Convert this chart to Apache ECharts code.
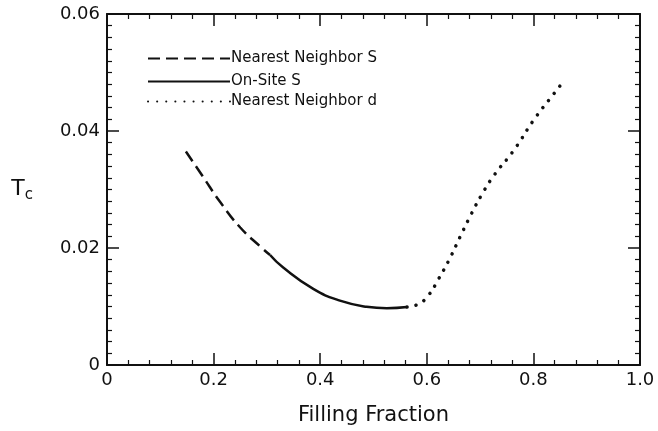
<!DOCTYPE html>
<html>
<head>
<meta charset="utf-8">
<script src="https://cdn.jsdelivr.net/npm/echarts@6/dist/echarts.min.js"></script>
<style>
  html, body { margin: 0; padding: 0; background: #fff; }
  #chart { width: 658px; height: 431px; }
</style>
</head>
<body>
<div id="chart"></div>
<script>
// 数据：近似值
const xTickLabels = ['0', '0.2', '0.4', '0.6', '0.8', '1.0'];
const yTickLabels = ['0', '0.02', '0.04', '0.06'];
const seriesNames = ['Nearest Neighbor S', 'On-Site S', 'Nearest Neighbor d'];

const nnS = [[0.148, 0.0365], [0.18, 0.0322], [0.212, 0.0279], [0.25, 0.0235], [0.287, 0.0203], [0.306, 0.0188]];
const onSiteS = [[0.306, 0.0188], [0.33, 0.0167], [0.387, 0.013], [0.437, 0.011], [0.487, 0.00995], [0.525, 0.0097], [0.563, 0.0099]];
const nnD = [[0.563, 0.0099], [0.584, 0.0104], [0.603, 0.0119], [0.622, 0.0147], [0.642, 0.0180], [0.664, 0.0222],
  [0.684, 0.0259], [0.703, 0.0291], [0.726, 0.0324], [0.764, 0.0368], [0.8, 0.0418], [0.837, 0.0462], [0.856, 0.0484]];

const FONT = 'DejaVu Sans';
const black = '#111';

function axisBase(extra) {
    return Object.assign({
        axisLine: { show: true, onZero: false, lineStyle: { color: black, width: 2 } },
        axisTick: { show: true, inside: true, length: 12, lineStyle: { color: black, width: 1.5 } },
        minorTick: { show: true, length: 5, lineStyle: { color: black, width: 1.2 } },
        splitLine: { show: false },
        minorSplitLine: { show: false }
    }, extra);
}

const chart = echarts.init(document.getElementById('chart'));
chart.setOption({
    animation: false,
    backgroundColor: '#fff',
    grid: { left: 107, right: 18, top: 14, bottom: 65 },
    xAxis: [
        axisBase({
            type: 'value', min: 0, max: 1, interval: 0.2, position: 'bottom',
            minorTick: { show: true, splitNumber: 5, length: 5, lineStyle: { color: black, width: 1.2 } },
            axisLabel: {
                margin: 6, fontFamily: FONT, fontSize: 18, color: black,
                formatter: (v, i) => xTickLabels[i]
            },
            name: 'Filling Fraction', nameLocation: 'middle', nameGap: 40,
            nameTextStyle: { fontFamily: FONT, fontSize: 21, color: black }
        }),
        axisBase({
            type: 'value', min: 0, max: 1, interval: 0.2, position: 'top',
            minorTick: { show: true, splitNumber: 5, length: 5, lineStyle: { color: black, width: 1.2 } },
            axisLabel: { show: false }
        })
    ],
    yAxis: [
        axisBase({
            type: 'value', min: 0, max: 0.06, interval: 0.02, position: 'left',
            minorTick: { show: true, splitNumber: 10, length: 5, lineStyle: { color: black, width: 1.2 } },
            axisLabel: {
                margin: 7, fontFamily: FONT, fontSize: 18, color: black,
                formatter: (v, i) => yTickLabels[i]
            },
            name: 'T{s|c}', nameLocation: 'middle', nameRotate: 0, nameGap: 74,
            nameTextStyle: {
                fontFamily: FONT, fontSize: 22, color: black,
                rich: { s: { fontFamily: FONT, fontSize: 15, color: black, verticalAlign: 'bottom', padding: [12, 0, 0, 0] } }
            }
        }),
        axisBase({
            type: 'value', min: 0, max: 0.06, interval: 0.02, position: 'right',
            minorTick: { show: true, splitNumber: 10, length: 5, lineStyle: { color: black, width: 1.2 } },
            axisLabel: { show: false }
        })
    ],
    legend: [
        { data: [seriesNames[0]], left: 142, top: 46 },
        { data: [seriesNames[1]], left: 142, top: 69 },
        { data: [seriesNames[2]], left: 142, top: 89 }
    ].map(l => Object.assign(l, {
        orient: 'vertical', itemWidth: 82, itemHeight: 10, itemGap: 0,
        itemStyle: { opacity: 0 },
        textStyle: { fontFamily: FONT, fontSize: 15, color: black, padding: [0, 0, 0, -4] }
    })),
    series: [
        {
            name: seriesNames[0], type: 'line', data: nnS, smooth: true, symbol: 'none',
            color: black, lineStyle: { color: black, width: 2.5, type: [12, 6] }
        },
        {
            name: seriesNames[1], type: 'line', data: onSiteS, smooth: true, symbol: 'none',
            color: black, lineStyle: { color: black, width: 2.5, type: 'solid' }
        },
        {
            name: seriesNames[2], type: 'line', data: nnD, smooth: true, symbol: 'none',
            color: black, lineStyle: { color: black, width: 3.5, type: [0.1, 9], cap: 'round' }
        }
    ]
});
</script>
</body>
</html>
